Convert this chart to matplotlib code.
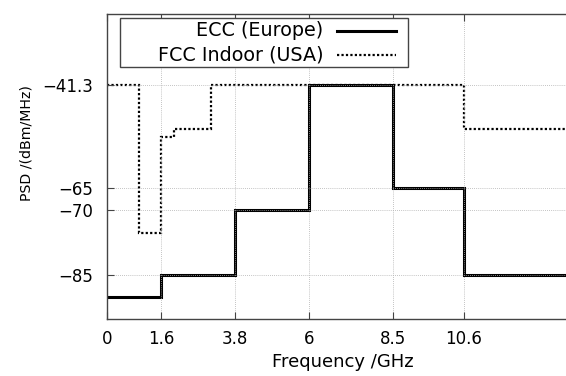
import numpy as np
import matplotlib
matplotlib.use("Agg")
import matplotlib.pyplot as plt
from matplotlib.patches import Rectangle

# spectral masks (GHz edges, dBm/MHz levels)
ecc_edges = [0, 1.6, 3.8, 6, 8.5, 10.6, 14]
ecc_psd = [-90, -85, -70, -41.3, -65, -85]

fcc_edges = [0, 0.96, 1.61, 1.99, 3.1, 10.6, 14]
fcc_psd = [-41.3, -75.3, -53.3, -51.3, -41.3, -51.3]

xticks = [0, 1.6, 3.8, 6, 8.5, 10.6]
yticks = [-41.3, -65, -70, -85]

labels = ["ECC (Europe)", "FCC Indoor (USA)"]

plt.rcParams['font.family'] = ['DejaVu Sans']

W, H = 566, 376
fig = plt.figure(figsize=(W / 100, H / 100), dpi=100)

# axes in pixels: left 107, right 578 (cut by figure edge), top 14, bottom 319
ax = fig.add_axes([107 / W, 1 - 319 / H, 471 / W, 305 / H])

ax.stairs(ecc_psd, ecc_edges, baseline=None, color='black', lw=2.2)
ax.stairs(fcc_psd, fcc_edges, baseline=None, color='black', lw=1.6,
          linestyle=(0, (1, 1)))

ax.set_xlim(0, 14)
ax.set_ylim(-95, -25)
ax.set_xticks(xticks)
ax.set_xticklabels([f"{v:g}" for v in xticks])
ax.set_yticks(yticks)
ax.set_yticklabels([f"{v:g}".replace('-', '\u2212') for v in yticks])

ax.grid(True, color='#b0b0b0', linestyle=(0, (1, 1.5)), lw=0.6)
ax.tick_params(direction='in', top=True, right=True, length=5, width=0.8,
               color='#444444', labelsize=12)
ax.tick_params(axis='x', pad=8)
ax.tick_params(axis='y', pad=10)
for s in ax.spines.values():
    s.set_color('#444444')
    s.set_linewidth(1.0)

ax.set_xlabel("Frequency /GHz", fontsize=13)
ax.xaxis.set_label_coords(0.5, -0.112)
ax.set_ylabel("PSD /(dBm/MHz)", fontsize=10.2)
ax.yaxis.set_label_coords(-0.155, 0.577)

# gnuplot-like key: text right-justified, sample line after it
ax.add_patch(Rectangle((0.0276, 0.8272), 0.6108, 0.1587, transform=ax.transAxes,
                       facecolor='white', edgecolor='#444444', lw=1.0,
                       clip_on=False, zorder=5))
key_y = [0.9459, 0.8672]
styles = [dict(lw=2.2, linestyle='-'), dict(lw=1.6, linestyle=(0, (1, 1)))]
for lab, yy, st in zip(labels, key_y, styles):
    ax.text(0.4592, yy, lab, transform=ax.transAxes, ha='right', va='center',
            fontsize=13.8, zorder=6)
    ax.plot([0.4874, 0.6132], [yy, yy], transform=ax.transAxes, color='black',
            clip_on=False, zorder=6, **st)

fig.savefig("out.png", dpi=100)
